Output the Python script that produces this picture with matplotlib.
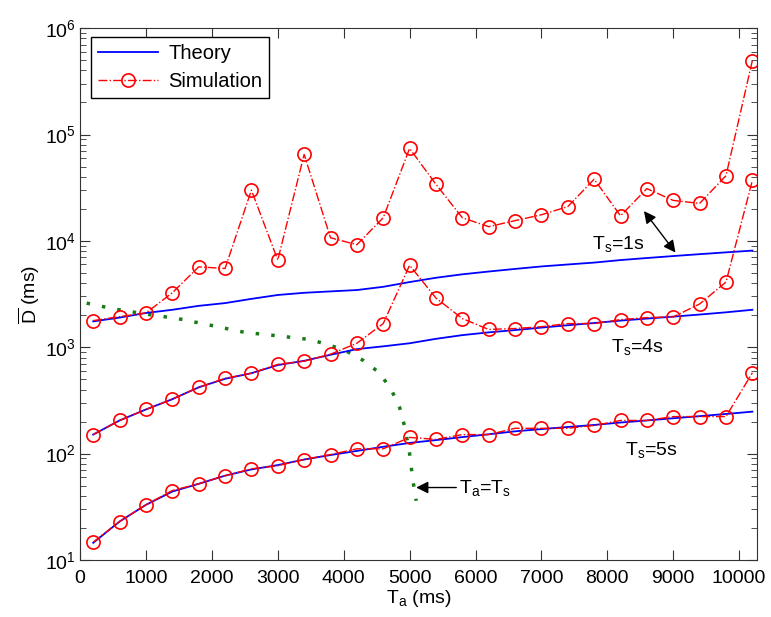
import matplotlib
matplotlib.use("Agg")
import matplotlib.pyplot as plt
from matplotlib.ticker import LogLocator, NullFormatter

plt.rcParams['font.family'] = ['Liberation Sans', 'DejaVu Sans']
plt.rcParams['mathtext.fontset'] = 'custom'
plt.rcParams['mathtext.rm'] = 'Liberation Sans'
plt.rcParams['mathtext.it'] = 'Liberation Sans:italic'
plt.rcParams['mathtext.bf'] = 'Liberation Sans:bold'

# ---- data ----
ta = [200, 600, 1000, 1400, 1800, 2200, 2600, 3000, 3400, 3800, 4200, 4600, 5000,
      5400, 5800, 6200, 6600, 7000, 7400, 7800, 8200, 8600, 9000, 9400, 9800, 10200]

theory_ts1 = [1750, 1900, 2100, 2250, 2450, 2600, 2850, 3100, 3250, 3350, 3450, 3700, 4100,
              4500, 4850, 5150, 5450, 5750, 6000, 6250, 6600, 6900, 7200, 7500, 7800, 8100]
sim_ts1 = [1780, 1940, 2100, 3250, 5700, 5500, 30000, 6600, 65000, 10700, 9200, 16500, 74000,
           34000, 16500, 13600, 15500, 17600, 21000, 38000, 17200, 31000, 24000, 22500, 41000, 495000]

theory_ts4 = [151, 205, 260, 325, 420, 505, 570, 680, 745, 850, 960, 1020, 1090,
              1200, 1300, 1380, 1450, 1530, 1610, 1690, 1780, 1860, 1940, 2030, 2130, 2250]
sim_ts4 = [151, 205, 260, 325, 420, 510, 570, 690, 740, 860, 1090, 1670, 5900,
           2900, 1860, 1470, 1500, 1560, 1670, 1670, 1820, 1900, 1930, 2550, 4100, 37000]

theory_ts5 = [14.5, 23, 33, 44, 52, 62, 71, 78, 88, 97, 106, 116, 126,
              134, 143, 152, 162, 170, 178, 186, 196, 205, 215, 225, 236, 248]
sim_ts5 = [14.7, 23, 33, 45, 52, 62, 72, 77, 88, 98, 111, 111, 142,
           136, 151, 151, 173, 173, 173, 184, 205, 205, 223, 223, 223, 575]

ta_eq = [100, 500, 1000, 1500, 2000, 2500, 3000, 3500, 4000, 4300, 4550, 4730, 4850, 4930, 5000, 5050, 5100]
d_eq = [2600, 2300, 2050, 1850, 1600, 1380, 1280, 1180, 950, 750, 570, 390, 270, 175, 100, 56, 36]

fig = plt.figure(figsize=(7.71, 6.17), dpi=100)
ax = fig.add_axes([0.1038, 0.0924, 0.878, 0.862])

red = '#ff0000'
blue = '#0000ff'
green = '#1a7a1a'

ax.plot(ta_eq, d_eq, linestyle=(0, (1, 3.5)), color=green, lw=2.5)

for th, sim in [(theory_ts1, sim_ts1), (theory_ts4, sim_ts4), (theory_ts5, sim_ts5)]:
    ax.plot(ta, th, color=blue, lw=1.3, label='Theory')
    ax.plot(ta, sim, color=red, lw=1.0, linestyle='-.', marker='o', markersize=9.5,
            markerfacecolor='none', markeredgecolor=red, markeredgewidth=1.2, label='Simulation')

ax.set_yscale('log')
ax.set_xlim(0, 10270)
ax.set_ylim(10, 1e6)
ax.set_xticks(range(0, 10001, 1000))
ax.yaxis.set_major_locator(LogLocator(base=10, numticks=10))
ax.yaxis.set_minor_locator(LogLocator(base=10, subs=range(2, 10), numticks=100))
ax.yaxis.set_minor_formatter(NullFormatter())
ax.tick_params(which='both', direction='in', top=True, right=True, labelsize=14, color='#333333')
ax.tick_params(axis='x', which='major', pad=7)
ax.tick_params(axis='y', which='major', pad=3)
ax.tick_params(which='major', length=7)
ax.tick_params(which='minor', length=4)
for s in ax.spines.values():
    s.set_color('#333333')

ax.set_xlabel(r'$\mathrm{T_a}$ (ms)', fontsize=14, labelpad=1)
ax.set_ylabel(r'$\overline{\mathrm{D}}$ (ms)', fontsize=14, labelpad=2)

h, l = ax.get_legend_handles_labels()
leg = ax.legend(h[:2], l[:2], loc='upper left', bbox_to_anchor=(0.016, 0.983), borderaxespad=0,
                fontsize=14.5, fancybox=False, edgecolor='black', framealpha=1, handlelength=3.0,
                borderpad=0.35, labelspacing=0.45, handletextpad=0.5)
leg.get_frame().set_linewidth(1.0)

# annotations
ax.annotate('', xy=(8530, 20000), xytext=(9060, 7400),
            arrowprops=dict(arrowstyle='<|-|>', color='black', lw=1.0, mutation_scale=18))
ax.text(7770, 9300, r'$\mathrm{T_s}$=1s', fontsize=14, ha='left', va='center')
ax.text(8050, 1000, r'$\mathrm{T_s}$=4s', fontsize=14, ha='left', va='center')
ax.text(8270, 108, r'$\mathrm{T_s}$=5s', fontsize=14, ha='left', va='center')
ax.annotate(r'$\mathrm{T_a}$=$\mathrm{T_s}$', xy=(5100, 48), xytext=(5750, 48),
            fontsize=14, ha='left', va='center',
            arrowprops=dict(arrowstyle='-|>', color='black', lw=1.0, mutation_scale=18,
                            shrinkA=0, shrinkB=0))

fig.savefig('out.png', dpi=100)
